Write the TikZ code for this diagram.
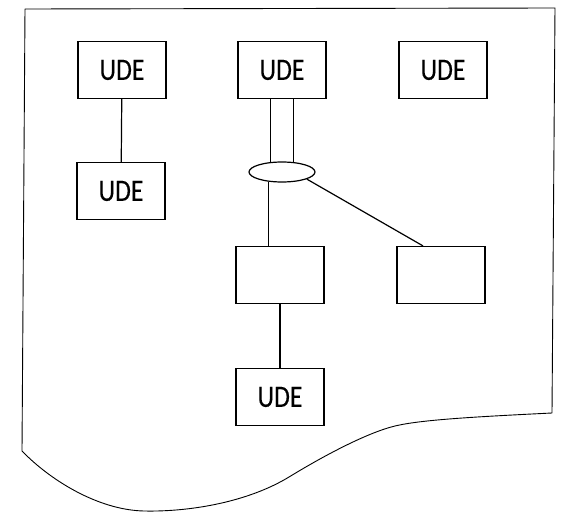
\documentclass[tikz,border=0pt]{standalone}
\usepackage{fontspec}
\newfontfamily\udefont[FakeStretch=0.83,FakeBold=0.25]{Carlito}
\usetikzlibrary{shapes.geometric}

\tikzset{
  unit/.style={draw, line width=1.2pt, minimum width=88pt, minimum height=57pt,
    inner sep=0pt, font=\udefont\fontsize{31}{31}\selectfont},
  link/.style={line width=1.2pt},
  hub/.style={draw, ellipse, line width=1.2pt, minimum width=66pt, minimum height=20pt, inner sep=0pt}
}

\begin{document}
\begin{tikzpicture}[x=1pt, y=-1pt]
\useasboundingbox (0,0) rectangle (563,519);
% sheet
\draw [line width=0.9pt, line join=round] (22,451) -- (25,9) -- (555,8) -- (552,413)
  .. controls (470,417) and (420,420) .. (395,426)
  .. controls (370,432) and (330,452) .. (289,477)
  .. controls (248,502) and (190,512) .. (144,511)
  .. controls (98,510) and (50,480) .. (22,451);

\node [unit] (ude1) at (122,70) {UDE};
\node [unit] (ude2) at (282,70) {UDE};
\node [unit] (ude3) at (443,70) {UDE};
\node [unit] (ude4) at (121,191) {UDE};
\node [hub]  (hub) at (282,172) {};
\node [unit] (blank1) at (280,275) {};
\node [unit] (blank2) at (441,275) {};
\node [unit] (ude5) at (280,397) {UDE};

\draw [link] (ude1) -- (ude4);
\draw [link] (hub.139 |- ude2.south) -- (hub.139);
\draw [link] (hub.41 |- ude2.south) -- (hub.41);
\draw [link] (hub.215) -- (hub.215 |- blank1.north);
\draw [link] (hub.-16) -- ([xshift=-18pt]blank2.north);
\draw [link] (blank1) -- (ude5);
\end{tikzpicture}
\end{document}
